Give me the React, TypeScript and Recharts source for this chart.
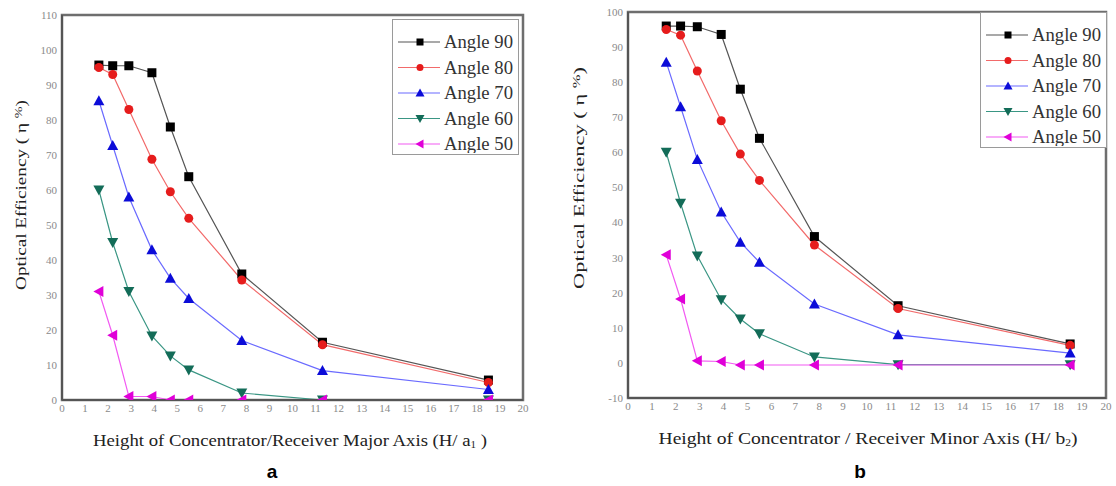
import React from 'react';
import { LineChart, Line, XAxis, YAxis, ReferenceArea, Legend } from 'recharts';

const xValues = [1.6, 2.2, 2.9, 3.9, 4.7, 5.5, 7.8, 11.3, 18.5];
const seriesNames = ['Angle 90', 'Angle 80', 'Angle 70', 'Angle 60', 'Angle 50'];

const a90 = [95.7, 95.5, 95.5, 93.5, 78, 63.8, 36, 16.5, 5.7];
const a80 = [95, 93, 83, 68.8, 59.5, 51.9, 34.3, 15.8, 5];
const a70 = [85.5, 72.7, 58, 42.9, 34.8, 29, 17, 8.4, 3];
const a60 = [60, 45, 31, 18.3, 12.6, 8.6, 2, 0, 0];
const a50 = [31, 18.5, 1, 1, 0, 0, 0, 0, 0];

const b90 = [96, 96, 95.8, 93.6, 78, 64, 36, 16.3, 5.4];
const b80 = [95, 93.4, 83.2, 69, 59.5, 52, 33.6, 15.5, 5];
const b70 = [85.7, 73, 58, 43, 34.4, 28.7, 16.8, 8, 2.8];
const b60 = [60, 45.5, 30.5, 18, 12.5, 8.3, 1.7, -0.5, -0.5];
const b50 = [30.8, 18.2, 0.6, 0.4, -0.6, -0.6, -0.6, -0.6, -0.6];

const xTicks = [0, 1, 2, 3, 4, 5, 6, 7, 8, 9, 10, 11, 12, 13, 14, 15, 16, 17, 18, 19, 20];
const yTicksA = [0, 10, 20, 30, 40, 50, 60, 70, 80, 90, 100, 110];
const yTicksB = [-10, 0, 10, 20, 30, 40, 50, 60, 70, 80, 90, 100];

const lineColors = ['#555555', '#f26a6a', '#6a6aff', '#3a9684', '#f25af2'];
const markerColors = ['#000000', '#e61c1c', '#0c0cd8', '#136c58', '#e000d8'];
const shapes = ['square', 'circle', 'triUp', 'triDown', 'triLeft'];

const SERIF = 'Liberation Serif, Tinos, DejaVu Serif, serif';

function markerEl(shape: string, cx: number, cy: number, color: string, s: number, key?: any) {
  if (cx == null || cy == null || isNaN(cx) || isNaN(cy)) return <g key={key} />;
  const h = s / 2;
  switch (shape) {
    case 'square':
      return <rect key={key} x={cx - h} y={cy - h} width={s} height={s} fill={color} />;
    case 'circle':
      return <circle key={key} cx={cx} cy={cy} r={h} fill={color} />;
    case 'triUp':
      return <polygon key={key} points={`${cx},${cy - h - 1} ${cx - h - 1},${cy + h} ${cx + h + 1},${cy + h}`} fill={color} />;
    case 'triDown':
      return <polygon key={key} points={`${cx},${cy + h + 1} ${cx - h - 1},${cy - h} ${cx + h + 1},${cy - h}`} fill={color} />;
    default:
      return <polygon key={key} points={`${cx - h - 1},${cy} ${cx + h},${cy - h - 1} ${cx + h},${cy + h + 1}`} fill={color} />;
  }
}

function buildRows(series: number[][]) {
  return xValues.map((x, i) => {
    const row: any = { x };
    series.forEach((s, k) => {
      row['s' + k] = s[i];
    });
    return row;
  });
}

const LegendBox = (props: { textLen: number }) => (
  <div style={{ width: 127, height: 136, border: '1.5px solid #9a9a9a', background: '#fff', boxSizing: 'border-box' }}>
    <svg width={124} height={133}>
      {seriesNames.map((name, i) => {
        const y = 22 + i * 25.5;
        return (
          <g key={name}>
            <line x1={5} x2={47} y1={y} y2={y} stroke={lineColors[i]} strokeWidth={1.2} />
            {markerEl(shapes[i], 27, y, markerColors[i], 7)}
            <text
              x={51}
              y={y}
              dominantBaseline="central"
              style={{ fontFamily: SERIF }}
              fontSize={18}
              fill="#333"
              textLength={props.textLen}
              lengthAdjust="spacingAndGlyphs"
            >
              {name}
            </text>
          </g>
        );
      })}
    </svg>
  </div>
);

type PanelProps = {
  series: number[][];
  yDomain: [number, number];
  yTicks: number[];
  width: number;
  margin: { top: number; right: number; bottom: number; left: number };
  legendLeft: number;
  legendTop: number;
};

const Panel = (p: PanelProps) => {
  const data = buildRows(p.series);
  const tickStyle = { fontFamily: SERIF, fontSize: 11, fill: '#8a8a8a', style: { fontFamily: SERIF } };
  return (
    <LineChart width={p.width} height={486} data={data} margin={p.margin} style={{ fontFamily: SERIF }}>
      <ReferenceArea
        x1={0}
        x2={20}
        y1={p.yDomain[0]}
        y2={p.yDomain[1]}
        fill="none"
        stroke="#6e6e6e"
        strokeWidth={2.5}
        ifOverflow="visible"
      />
      <XAxis
        type="number"
        dataKey="x"
        domain={[0, 20]}
        ticks={xTicks}
        interval={0}
        height={60}
        tickLine={false}
        tickSize={3}
        tickMargin={1}
        axisLine={{ stroke: '#555', strokeWidth: 2 }}
        tick={tickStyle}
      />
      <YAxis
        type="number"
        domain={p.yDomain}
        ticks={p.yTicks}
        interval={0}
        width={40}
        tickLine={false}
        tickSize={2}
        tickMargin={3}
        axisLine={{ stroke: '#555', strokeWidth: 2 }}
        tick={tickStyle}
        allowDataOverflow
      />
      <Legend
        layout="vertical"
        align="center"
        verticalAlign="middle"
        wrapperStyle={{ left: p.legendLeft, top: p.legendTop, width: 127, height: 136 }}
        content={() => <LegendBox textLen={69} />}
      />
      {seriesNames.map((name, k) => (
        <Line
          key={name}
          name={name}
          type="linear"
          dataKey={'s' + k}
          stroke={lineColors[k]}
          strokeWidth={1.2}
          isAnimationActive={false}
          dot={(dp: any) => markerEl(shapes[k], dp.cx, dp.cy, markerColors[k], 9, dp.index)}
          activeDot={false}
        />
      ))}
    </LineChart>
  );
};

const seriesA = [a90, a80, a70, a60, a50];
const seriesB = [b90, b80, b70, b60, b50];

const titleStyle = { fontFamily: SERIF };

export default function App() {
  return (
    <div style={{ position: 'absolute', left: 0, top: 0, width: 1116, height: 486, background: '#fff', fontFamily: SERIF }}>
      <div style={{ position: 'absolute', left: 0, top: 0 }}>
        <Panel
          series={seriesA}
          yDomain={[0, 110]}
          yTicks={yTicksA}
          width={540}
          margin={{ top: 15, right: 17, bottom: 26, left: 22 }}
          legendLeft={392}
          legendTop={19}
        />
      </div>
      <div style={{ position: 'absolute', left: 560, top: 0 }}>
        <Panel
          series={seriesB}
          yDomain={[-10, 100]}
          yTicks={yTicksB}
          width={556}
          margin={{ top: 12, right: 10, bottom: 28, left: 28 }}
          legendLeft={420}
          legendTop={12}
        />
      </div>
      <svg width={1116} height={486} style={{ position: 'absolute', left: 0, top: 0, pointerEvents: 'none' }}>
        <text
          x={21}
          y={195}
          transform="rotate(-90 21 195)"
          textAnchor="middle"
          dominantBaseline="central"
          style={titleStyle}
          fontSize={15}
          fill="#222"
          textLength={190}
          lengthAdjust="spacingAndGlyphs"
        >
          Optical Efficiency ( η <tspan dy={-3} fontSize={11}>%</tspan><tspan dy={3}>)</tspan>
        </text>
        <text
          x={579}
          y={178}
          transform="rotate(-90 579 178)"
          textAnchor="middle"
          dominantBaseline="central"
          style={titleStyle}
          fontSize={15}
          fill="#222"
          textLength={222}
          lengthAdjust="spacingAndGlyphs"
        >
          Optical Efficiency ( η <tspan dy={-3} fontSize={11}>%</tspan><tspan dy={3}>)</tspan>
        </text>
        <text
          x={290}
          y={440}
          textAnchor="middle"
          dominantBaseline="central"
          style={titleStyle}
          fontSize={17}
          fill="#222"
          textLength={394}
          lengthAdjust="spacingAndGlyphs"
        >
          Height of Concentrator/Receiver Major Axis (H/ a<tspan dy={4} fontSize={10}>1</tspan><tspan dy={-4}> )</tspan>
        </text>
        <text
          x={868}
          y={438}
          textAnchor="middle"
          dominantBaseline="central"
          style={titleStyle}
          fontSize={17}
          fill="#222"
          textLength={419}
          lengthAdjust="spacingAndGlyphs"
        >
          Height of Concentrator / Receiver Minor Axis (H/ b<tspan dy={4} fontSize={10}>2</tspan><tspan dy={-4}>)</tspan>
        </text>
        <text x={272} y={471} textAnchor="middle" dominantBaseline="central" style={{ fontFamily: 'Liberation Sans, Arial, sans-serif' }} fontWeight="bold" fontSize={19} fill="#000">
          a
        </text>
        <text x={860} y={471} textAnchor="middle" dominantBaseline="central" style={{ fontFamily: 'Liberation Sans, Arial, sans-serif' }} fontWeight="bold" fontSize={19} fill="#000">
          b
        </text>
      </svg>
    </div>
  );
}
